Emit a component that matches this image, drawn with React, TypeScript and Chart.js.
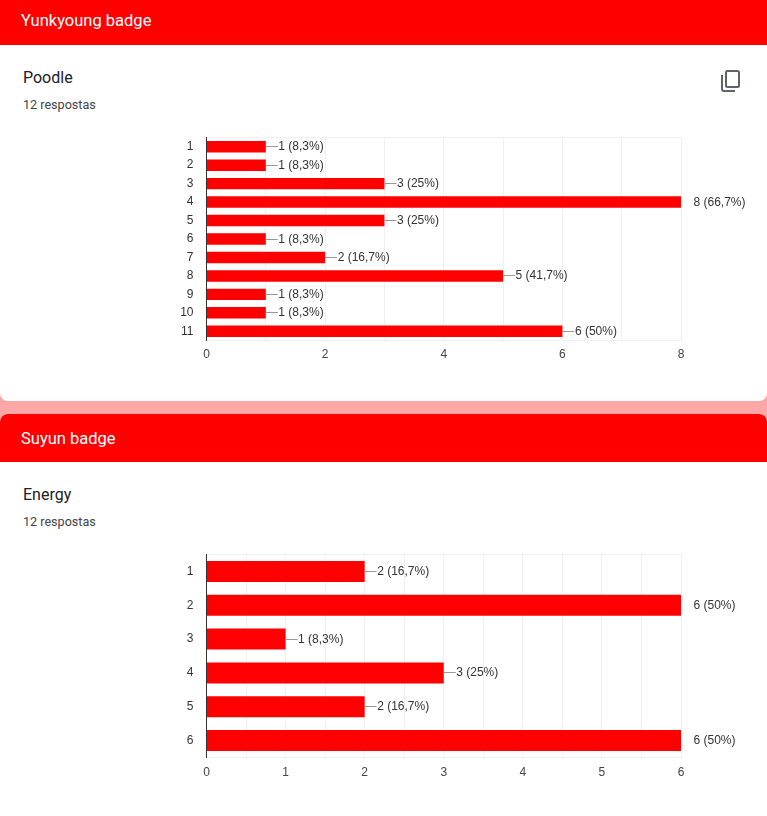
import React, { useEffect, useRef } from "react";
import { Chart, registerables } from "chart.js";

Chart.register(...registerables);

const poodleCategories = ["1", "2", "3", "4", "5", "6", "7", "8", "9", "10", "11"];
const poodleValues = [1, 1, 3, 8, 3, 1, 2, 5, 1, 1, 6];
const poodleLabels = ["1 (8,3%)", "1 (8,3%)", "3 (25%)", "8 (66,7%)", "3 (25%)", "1 (8,3%)", "2 (16,7%)", "5 (41,7%)", "1 (8,3%)", "1 (8,3%)", "6 (50%)"];
const poodleTicks = [0, 2, 4, 6, 8];

const energyCategories = ["1", "2", "3", "4", "5", "6"];
const energyValues = [2, 6, 1, 3, 2, 6];
const energyLabels = ["2 (16,7%)", "6 (50%)", "1 (8,3%)", "3 (25%)", "2 (16,7%)", "6 (50%)"];
const energyTicks = [0, 1, 2, 3, 4, 5, 6];

const RED = "#ff0000";
const UI_FONT = "Roboto, 'Noto Sans', sans-serif";
const CHART_FONT = "'Liberation Sans', Arial, sans-serif";

type BarChartProps = {
  categories: string[];
  values: number[];
  labels: string[];
  ticks: number[];
  max: number;
  gridStep: number;
  top: number;
  tickPadding: number;
};

function BarChart(p: BarChartProps) {
  const ref = useRef<HTMLCanvasElement | null>(null);
  useEffect(() => {
    const valueLabels = {
      id: "valueLabels",
      afterDatasetsDraw(chart: any) {
        const { ctx } = chart;
        const meta = chart.getDatasetMeta(0);
        ctx.save();
        ctx.font = `12px ${CHART_FONT}`;
        ctx.textBaseline = "middle";
        meta.data.forEach((bar: any, i: number) => {
          const x = bar.x;
          const y = Math.floor(bar.y);
          if (p.values[i] < p.max) {
            ctx.strokeStyle = "#999999";
            ctx.lineWidth = 1;
            ctx.beginPath();
            ctx.moveTo(x, y + 0.5);
            ctx.lineTo(x + 12, y + 0.5);
            ctx.stroke();
          }
          ctx.fillStyle = "#333333";
          ctx.fillText(p.labels[i], x + 12.5, y + 0.5);
        });
        ctx.restore();
      },
    };
    const chart = new Chart(ref.current as HTMLCanvasElement, {
      type: "bar",
      data: {
        labels: p.categories,
        datasets: [
          {
            data: p.values,
            backgroundColor: RED,
            borderWidth: 0,
            barPercentage: 0.62,
            categoryPercentage: 1,
          },
        ],
      },
      plugins: [valueLabels],
      options: {
        indexAxis: "y",
        responsive: false,
        animation: false,
        layout: { padding: { top: 20.5, right: 86, left: 0, bottom: 0 } },
        plugins: { legend: { display: false }, tooltip: { enabled: false }, title: { display: false } },
        scales: {
          x: {
            min: 0,
            max: p.max,
            afterFit(scale: any) {
              scale.height = 26.5;
            },
            border: { display: true, color: "#f0f0f0", width: 1 },
            grid: { color: "#efefef", drawTicks: false, lineWidth: 1 },
            ticks: {
              stepSize: p.gridStep,
              autoSkip: false,
              maxRotation: 0,
              padding: p.tickPadding,
              color: "#444444",
              font: { family: CHART_FONT, size: 12 },
              callback: (v: any) => (p.ticks.includes(Number(v)) ? String(v) : ""),
            },
          },
          y: {
            afterFit(scale: any) {
              scale.width = 56.5;
            },
            border: { display: true, color: "#333333", width: 1 },
            grid: {
              drawTicks: false,
              lineWidth: 1,
              color: (c: any) => (c.index === 0 ? "#f0f0f0" : "rgba(0,0,0,0)"),
            },
            ticks: {
              autoSkip: false,
              padding: 13,
              color: "#333333",
              font: { family: CHART_FONT, size: 12 },
            },
          },
        },
      } as any,
    });
    return () => chart.destroy();
  }, []);
  return (
    <canvas
      ref={ref}
      width={617}
      height={250}
      style={{ position: "absolute", left: 150, top: p.top, width: 617, height: 250 }}
    />
  );
}

function Text(props: { x: number; y: number; size: number; color: string; children: string; weight?: number }) {
  return (
    <div
      style={{
        position: "absolute",
        left: props.x,
        top: props.y,
        transform: "translateY(-50%)",
        fontFamily: UI_FONT,
        fontSize: props.size,
        fontWeight: props.weight ?? 400,
        color: props.color,
        whiteSpace: "nowrap",
        lineHeight: 1.2,
      }}
    >
      {props.children}
    </div>
  );
}

export default function App() {
  return (
    <div style={{ position: "fixed", left: 0, top: 0, width: 767, height: 816, overflow: "hidden", background: "#ffa6a6" }}>
      <div style={{ position: "absolute", left: 0, top: 0, width: 767, height: 401, background: "#fff", borderRadius: "0 0 8px 8px" }} />
      <div style={{ position: "absolute", left: 0, top: 0, width: 767, height: 45, background: RED }} />
      <div style={{ position: "absolute", left: 0, top: 414, width: 767, height: 402, background: "#fff", borderRadius: "8px 8px 0 0" }} />
      <div style={{ position: "absolute", left: 0, top: 414, width: 767, height: 48, background: RED, borderRadius: "8px 8px 0 0" }} />

      <Text x={21} y={21} size={16.5} color="#ffffff">Yunkyoung badge</Text>
      <Text x={23} y={78} size={16} color="#202124">Poodle</Text>
      <Text x={23} y={105} size={12.6} color="#444444">12 respostas</Text>
      <Text x={21} y={439} size={16.5} color="#ffffff">Suyun badge</Text>
      <Text x={23} y={495} size={16} color="#202124">Energy</Text>
      <Text x={23} y={522} size={12.6} color="#444444">12 respostas</Text>

      <svg style={{ position: "absolute", left: 720, top: 69 }} width={22} height={24} viewBox="0 0 22 24" fill="none" stroke="#5f6368" strokeWidth={2}>
        <rect x={6} y={2} width={13} height={16} rx={1.5} />
        <path d="M2 6 V20 Q2 22 4 22 H15" />
      </svg>

      <BarChart
        categories={poodleCategories}
        values={poodleValues}
        labels={poodleLabels}
        ticks={poodleTicks}
        max={8}
        gridStep={1}
        top={117}
        tickPadding={7}
      />
      <BarChart
        categories={energyCategories}
        values={energyValues}
        labels={energyLabels}
        ticks={energyTicks}
        max={6}
        gridStep={0.5}
        top={534}
        tickPadding={8}
      />
    </div>
  );
}
